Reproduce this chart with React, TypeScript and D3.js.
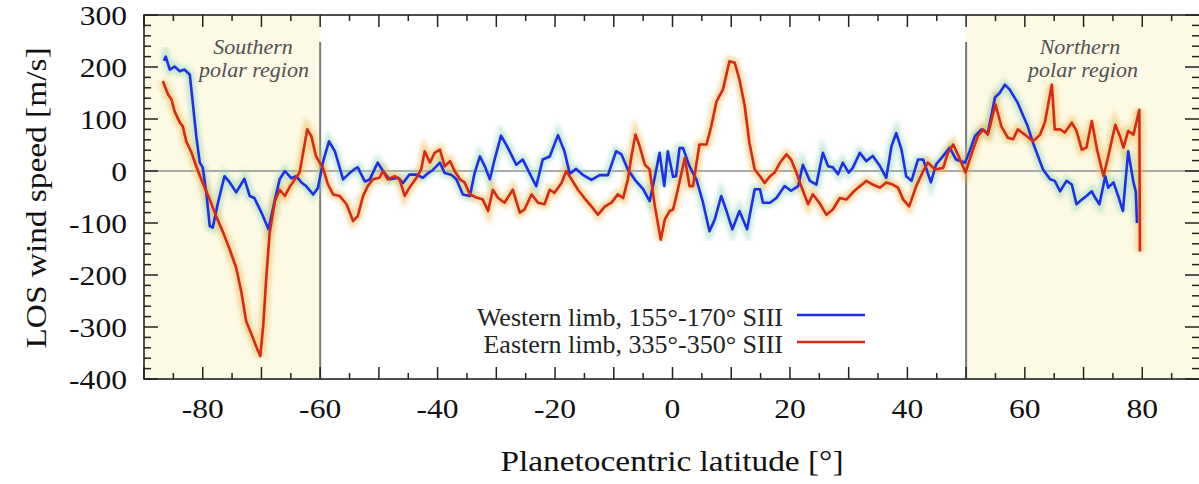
import React from "react";
import * as d3 from "d3";

// Western limb (155°-170° SIII): latitude [°] and LOS wind speed [m/s]
const westLat = [
  -86.6, -86.3, -85.6, -84.8, -83.9, -83.1, -82.2, -81.7, -81.1, -80.5, -80.0, -79.4, -78.8, -78.3, -77.4,
  -76.3, -75.4, -74.3, -72.9, -72.0, -71.2, -70.0, -68.8, -67.7, -66.9, -66.0, -64.9, -64.1, -63.2, -62.4,
  -61.2, -60.4, -59.5, -58.5, -57.5, -56.1, -55.0, -54.1, -53.6, -52.4, -51.6, -50.2, -49.3, -48.2, -46.7,
  -45.9, -44.8, -43.6, -42.5, -41.6, -40.8, -39.6, -38.8, -37.7, -36.8, -35.7, -34.5, -33.7, -32.8, -32.0,
  -31.1, -30.3, -29.2, -28.0, -26.6, -25.5, -24.3, -23.2, -22.1, -20.9, -19.5, -18.4, -17.5, -16.4, -15.2,
  -13.8, -12.4, -11.0, -9.6, -8.7, -7.6, -6.4, -5.0, -3.9, -3.0, -2.2, -1.4, -0.8, 0.1, 0.6,
  1.2, 1.8, 2.9, 4.1, 5.2, 6.3, 7.2, 8.3, 9.2, 10.2, 11.4, 12.7, 14.0, 14.9, 15.4,
  16.6, 17.7, 19.1, 20.2, 21.4, 22.2, 23.4, 24.5, 25.6, 26.5, 27.3, 28.2, 29.0, 30.0, 30.7,
  31.9, 33.0, 34.1, 35.3, 36.4, 37.3, 38.1, 39.0, 39.8, 40.7, 41.8, 42.7, 44.0, 44.9, 46.1,
  47.2, 48.3, 49.8, 50.6, 51.5, 52.6, 53.7, 54.9, 55.7, 56.6, 57.4, 58.8, 59.5, 60.5, 61.4,
  63.1, 64.3, 65.1, 66.0, 67.1, 68.0, 68.8, 69.7, 70.5, 71.4, 72.0, 72.7, 73.7, 74.2, 75.1,
  75.9, 76.7, 77.6, 78.5, 78.9, 79.1,
];
const westSpeed = [
  212, 220, 195, 201, 192, 195, 185, 132, 67, 16, 7, -41, -106, -109, -61,
  -10, -22, -41, -15, -48, -52, -80, -112, -55, -16, 0, -14, -10, -22, -29,
  -45, -33, 18, 57, 38, -16, -4, 4, 7, -20, -17, 16, 0, -16, -13,
  -23, -7, -7, -13, -4, 2, 16, -4, -7, -16, -45, -48, -4, 28, 10,
  -16, 22, 68, 44, 12, 22, -5, -29, 22, 28, 69, 38, -5, 4, -8,
  -17, -8, -8, 38, 32, 3, -17, -35, -58, -11, 35, -29, 38, -11, -10,
  44, 44, 9, -17, -61, -116, -93, -48, -77, -112, -77, -112, -35, -35, -61,
  -61, -52, -29, -38, -29, 12, -19, -26, 35, 9, 7, -6, 16, -3, 6,
  35, 19, 29, 10, -13, 48, 73, 41, -10, -19, 22, 22, -22, 13, 29,
  45, 22, 16, 38, 67, 80, 73, 141, 150, 166, 157, 131, 112, 86, 54,
  3, -16, -19, -39, -19, -26, -64, -55, -48, -39, -52, -64, -10, -32, -22,
  -48, -77, 38, -22, -40, -100,
];

// Eastern limb (335°-350° SIII)
const eastLat = [
  -86.8, -85.9, -85.3, -84.8, -83.9, -83.4, -82.8, -81.9, -81.1, -80.0, -78.8, -77.7, -76.5, -75.4, -74.3,
  -73.4, -72.6, -71.7, -70.9, -70.2, -69.7, -69.2, -68.6, -67.7, -66.9, -66.0, -65.2, -64.3, -63.5, -62.9,
  -62.2, -61.5, -60.7, -59.5, -58.7, -57.8, -56.7, -55.5, -54.4, -53.6, -52.7, -51.9, -51.0, -49.9, -49.3,
  -48.5, -47.3, -46.5, -45.6, -44.8, -43.6, -42.8, -42.2, -41.3, -40.5, -39.6, -38.8, -37.9, -37.1, -36.2,
  -35.4, -34.5, -33.4, -32.3, -31.4, -30.6, -29.7, -28.6, -27.2, -26.0, -25.2, -24.0, -22.9, -21.8, -20.9,
  -20.1, -18.9, -18.1, -17.2, -16.1, -15.0, -13.8, -12.7, -11.5, -10.4, -9.3, -8.4, -7.6, -7.0, -6.3,
  -5.6, -4.7, -3.9, -3.0, -2.0, -1.3, -0.5, 0.1, 0.9, 2.1, 2.9, 3.5, 4.1, 4.6, 5.8,
  6.6, 7.5, 8.6, 9.7, 10.6, 11.4, 12.3, 13.1, 14.0, 14.9, 15.7, 16.6, 17.4, 18.3, 19.4,
  20.2, 21.1, 21.9, 23.1, 23.9, 25.0, 26.2, 27.3, 28.5, 29.6, 30.8, 31.6, 33.0, 34.1, 35.3,
  36.4, 37.5, 38.4, 39.3, 40.3, 41.5, 42.7, 43.5, 44.7, 46.1, 46.9, 47.8, 48.7, 49.9, 50.9,
  52.0, 52.9, 53.7, 55.0, 56.0, 57.1, 58.0, 58.8, 60.0, 61.4, 62.6, 63.4, 64.6, 65.1, 66.0,
  66.8, 68.0, 68.8, 69.7, 70.5, 71.4, 72.3, 73.4, 74.2, 75.4, 76.2, 76.8, 77.6, 78.5, 79.1,
  79.5, 79.6,
];
const eastSpeed = [
  173, 147, 137, 115, 93, 86, 57, 35, 9, -23, -55, -87, -119, -151, -186,
  -234, -289, -314, -337, -356, -298, -209, -119, -58, -36, -48, -31, -16, -3, 35,
  80, 67, 28, 5, -25, -45, -48, -64, -96, -87, -48, -29, -16, -13, 0,
  -16, -10, -16, -48, -32, -13, 3, 38, 16, 35, 41, 9, 19, 0, -16,
  -22, -45, -51, -55, -77, -36, -52, -61, -36, -80, -74, -45, -61, -64, -36,
  -42, -23, 0, -16, -36, -52, -68, -84, -68, -61, -45, -52, -16, 28, 70,
  48, 12, 3, -68, -132, -93, -77, -74, -36, 25, -29, -29, 16, 51, 51,
  86, 134, 157, 211, 208, 176, 125, 54, 3, -10, -23, -10, -3, 16, 32,
  22, -3, -29, -64, -45, -61, -84, -74, -52, -55, -40, -32, -19, -26, -32,
  -22, -26, -32, -55, -68, -29, 0, 16, 3, 6, 35, 51, 29, -3, 32,
  67, 80, 70, 128, 86, 64, 61, 80, 70, 57, 70, 93, 166, 80, 80,
  74, 93, 77, 41, 45, 96, 41, -10, 28, 89, 67, 45, 77, 70, 99,
  118, -155,
];

const xTicks = [-80, -60, -40, -20, 0, 20, 40, 60, 80];
const yTicks = [300, 200, 100, 0, -100, -200, -300, -400];
const polarSouth = [-90, -60];
const polarNorth = [50, 90];

const W = 1199;
const H = 484;
const left = 144;
const right = 1201;
const top = 15;
const bottom = 379;
const serif = "Liberation Serif, Times New Roman, Times, Nimbus Roman, serif";

const x = d3.scaleLinear().domain([-90, 90]).range([left, right]);
const y = d3.scaleLinear().domain([-400, 300]).range([bottom, top]);

const westPts = westLat.map((d, i) => [d, westSpeed[i]] as [number, number]);
const eastPts = eastLat.map((d, i) => [d, eastSpeed[i]] as [number, number]);
const line = d3
  .line<[number, number]>()
  .x((d) => x(d[0]))
  .y((d) => y(d[1]));

const minorX = d3.range(-90, 91, 5);
const minorY = d3.range(-400, 301, 20);

export default function App() {
  return (
    <svg
      width={W}
      height={H}
      style={{ position: "absolute", left: 0, top: 0, background: "#fff", fontFamily: serif }}
    >
      <defs>
        <clipPath id="plot">
          <rect x={left} y={top} width={right - left} height={bottom - top} />
        </clipPath>
        <filter id="blur" x="-5%" y="-5%" width="110%" height="110%">
          <feGaussianBlur stdDeviation="2.2" />
        </filter>
      </defs>

      {/* polar shading */}
      {[polarSouth, polarNorth].map((r, i) => (
        <rect
          key={i}
          x={x(r[0])}
          y={top}
          width={x(r[1]) - x(r[0])}
          height={bottom - top}
          fill="#fcf9e4"
        />
      ))}
      {/* region boundaries */}
      {[polarSouth[1], polarNorth[0]].map((v) => (
        <line key={v} x1={x(v)} x2={x(v)} y1={42} y2={bottom} stroke="#7a7a7a" strokeWidth={2} />
      ))}
      <line x1={left} x2={right} y1={y(0)} y2={y(0)} stroke="#aaa" strokeWidth={2} />

      <g fontStyle="italic" fontSize={22} fill="#505050" textAnchor="middle" style={{ fontFamily: serif }}>
        <text x={253} y={54}>Southern</text>
        <text x={254} y={77}>polar region</text>
        <text x={1080} y={54}>Northern</text>
        <text x={1083} y={77}>polar region</text>
      </g>

      <g clipPath="url(#plot)">
        <path d={line(westPts) ?? ""} fill="none" stroke="#8ed4b4" strokeOpacity={0.5} strokeWidth={9} filter="url(#blur)" />
        <path d={line(eastPts) ?? ""} fill="none" stroke="#eeb441" strokeOpacity={0.5} strokeWidth={9} filter="url(#blur)" />
        <path d={line(westPts) ?? ""} fill="none" stroke="#1f2fe6" strokeWidth={2.6} strokeLinejoin="round" />
        <path d={line(eastPts) ?? ""} fill="none" stroke="#d42a18" strokeWidth={2.6} strokeLinejoin="round" />
      </g>

      {/* frame and ticks */}
      <rect x={left} y={top} width={right - left} height={bottom - top} fill="none" stroke="#222" strokeWidth={1.6} />
      <g stroke="#222" strokeWidth={1.5}>
        {minorX.map((v) => {
          const len = v % 10 === 0 ? 12 : 6;
          return (
            <g key={v}>
              <line x1={x(v)} x2={x(v)} y1={bottom} y2={bottom - len} />
              <line x1={x(v)} x2={x(v)} y1={top} y2={top + len} />
            </g>
          );
        })}
        {minorY.map((v) => {
          const len = v % 100 === 0 ? 14 : 7;
          return (
            <g key={v}>
              <line x1={left} x2={left + len} y1={y(v)} y2={y(v)} />
              <line x1={right} x2={right - len - 2} y1={y(v)} y2={y(v)} />
            </g>
          );
        })}
      </g>

      <g fontSize={27} fill="#111" style={{ fontFamily: serif }}>
        {yTicks.map((v) => (
          <text key={v} transform={`translate(127,${y(v) + 9.5}) scale(1.17,1)`} textAnchor="end">
            {v}
          </text>
        ))}
        {xTicks.map((v) => (
          <text key={v} transform={`translate(${x(v)},418) scale(1.17,1)`} textAnchor="middle">
            {v}
          </text>
        ))}
      </g>

      <text
        transform="translate(672,471) scale(1.15,1)"
        fontSize={29}
        textAnchor="middle"
        fill="#111"
        style={{ fontFamily: serif }}
      >
        Planetocentric latitude [°]
      </text>
      <text
        transform="translate(46,198) rotate(-90) scale(1.15,1)"
        fontSize={29}
        textAnchor="middle"
        fill="#111"
        style={{ fontFamily: serif }}
      >
        LOS wind speed [m/s]
      </text>

      {/* legend */}
      <g fontSize={26} fill="#222" textAnchor="end" style={{ fontFamily: serif }}>
        <text x={783} y={326}>Western limb, 155°-170° SIII</text>
        <text x={783} y={353}>Eastern limb, 335°-350° SIII</text>
      </g>
      <line x1={797} x2={865} y1={315} y2={315} stroke="#1f2fe6" strokeWidth={2.6} />
      <line x1={797} x2={865} y1={342} y2={342} stroke="#d42a18" strokeWidth={2.6} />
    </svg>
  );
}
